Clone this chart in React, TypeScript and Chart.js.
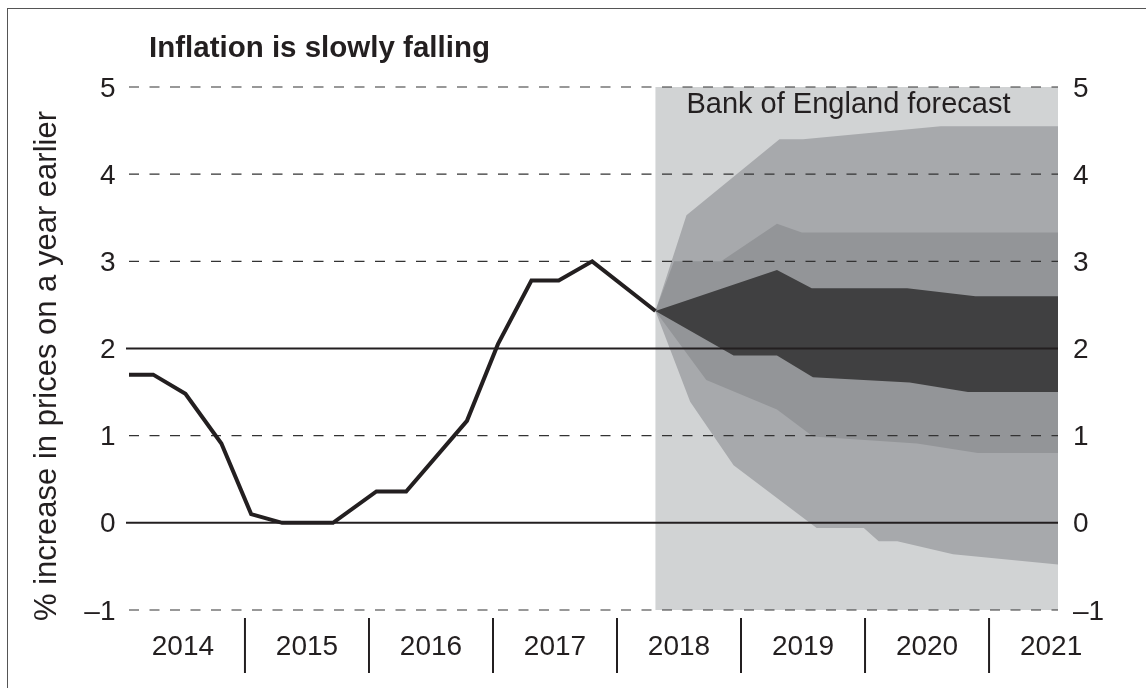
import React, { useEffect, useRef } from "react";
import { Chart, registerables } from "chart.js";

Chart.register(...registerables);

// ---------- text ----------
const chartTitle = "Inflation is slowly falling";
const yAxisTitle = "% increase in prices on a year earlier";
const forecastLabel = "Bank of England forecast";
const yearLabels = ["2014", "2015", "2016", "2017", "2018", "2019", "2020", "2021"];
const yearStarts = [2014, 2015, 2016, 2017, 2018, 2019, 2020, 2021];
const yTickValues = [5, 4, 3, 2, 1, 0, -1];
const dashedGridValues = [5, 4, 3, 1, -1];
const solidGridValues = [2, 0];

// ---------- axis ranges ----------
const xMin = 2014.065;
const xMax = 2021.556;
const yMin = -1;
const yMax = 5;

// ---------- CPI inflation (outturn) ----------
const histDates = [2014.048, 2014.26, 2014.52, 2014.81, 2015.05, 2015.3, 2015.71, 2016.06, 2016.3, 2016.79, 2017.04, 2017.31, 2017.53, 2017.8, 2018.31];
const histValues = [1.7, 1.7, 1.48, 0.91, 0.1, 0.0, 0.0, 0.36, 0.36, 1.17, 2.05, 2.78, 2.78, 3.0, 2.43];

// ---------- forecast fan ----------
const forecastStart = 2018.31;

const outerUpperX = [2018.31, 2018.56, 2019.31, 2019.5, 2020.61, 2021.56];
const outerUpperY = [2.43, 3.53, 4.4, 4.4, 4.55, 4.55];
const outerLowerX = [2018.31, 2018.59, 2018.94, 2019.61, 2019.99, 2020.11, 2020.26, 2020.71, 2021.56];
const outerLowerY = [2.43, 1.39, 0.66, -0.06, -0.06, -0.21, -0.21, -0.36, -0.48];

const middleUpperX = [2018.31, 2018.46, 2018.84, 2019.29, 2019.49, 2021.56];
const middleUpperY = [2.43, 3.0, 3.0, 3.43, 3.33, 3.33];
const middleLowerX = [2018.31, 2018.72, 2019.29, 2019.58, 2020.42, 2020.91, 2021.56];
const middleLowerY = [2.43, 1.64, 1.3, 0.99, 0.91, 0.8, 0.8];

const darkUpperX = [2018.31, 2019.29, 2019.57, 2020.34, 2020.89, 2021.56];
const darkUpperY = [2.43, 2.9, 2.69, 2.69, 2.6, 2.6];
const darkLowerX = [2018.31, 2018.94, 2019.29, 2019.58, 2020.36, 2020.83, 2021.56];
const darkLowerY = [2.43, 1.92, 1.92, 1.67, 1.61, 1.5, 1.5];

// ---------- style ----------
const FONT = '"Liberation Sans", Arial, Helvetica, sans-serif';
const INK = "#231f20";
const BG_FORECAST = "#d1d3d4";
const BAND_OUTER = "#a7a9ac";
const BAND_MIDDLE = "#939598";
const BAND_DARK = "#404041";

function polygon(ux: number[], uy: number[], lx: number[], ly: number[]) {
  const pts = ux.map((x, i) => ({ x, y: uy[i] }));
  for (let i = lx.length - 1; i >= 0; i--) pts.push({ x: lx[i], y: ly[i] });
  return pts;
}

function fmtTick(v: number) {
  return v < 0 ? "\u2013" + Math.abs(v) : String(v);
}

const decorPlugin = {
  id: "decor",
  beforeDatasetDraw(chart: any, args: any) {
    if (args.index !== 0) return;
    const { ctx, chartArea: a } = chart;
    const x = chart.scales.x;
    const y = chart.scales.y;
    ctx.save();
    // forecast label
    ctx.font = `29px ${FONT}`;
    ctx.fillStyle = INK;
    ctx.textAlign = "left";
    ctx.textBaseline = "alphabetic";
    ctx.fillText(forecastLabel, x.getPixelForValue(forecastStart) + 31, y.getPixelForValue(yMax) + 26);

    // dashed gridlines
    ctx.strokeStyle = "#333333";
    ctx.lineWidth = 1.2;
    ctx.setLineDash([10, 10.5]);
    for (const v of dashedGridValues) {
      const py = y.getPixelForValue(v);
      ctx.beginPath();
      ctx.moveTo(a.left, py);
      ctx.lineTo(a.right, py);
      ctx.stroke();
    }
    // solid gridlines
    ctx.setLineDash([]);
    ctx.strokeStyle = INK;
    ctx.lineWidth = 2;
    for (const v of solidGridValues) {
      const py = y.getPixelForValue(v);
      ctx.beginPath();
      ctx.moveTo(a.left - 3, py);
      ctx.lineTo(a.right, py);
      ctx.stroke();
    }
    ctx.restore();
  },
  afterDraw(chart: any) {
    const { ctx, chartArea: a } = chart;
    const x = chart.scales.x;
    const y = chart.scales.y;
    ctx.save();
    ctx.fillStyle = INK;

    // title
    ctx.font = `bold 29.5px ${FONT}`;
    ctx.textAlign = "left";
    ctx.textBaseline = "alphabetic";
    ctx.fillText(chartTitle, 149, 57);

    // y tick labels, both sides
    ctx.font = `28px ${FONT}`;
    for (const v of yTickValues) {
      const py = y.getPixelForValue(v) + 9.5;
      ctx.textAlign = "right";
      ctx.fillText(fmtTick(v), a.left - 13.5, py);
      ctx.textAlign = "left";
      ctx.fillText(fmtTick(v), a.right + 15, py);
    }

    // y axis title
    ctx.save();
    ctx.font = `31px ${FONT}`;
    ctx.translate(56, 366);
    ctx.rotate(-Math.PI / 2);
    ctx.textAlign = "center";
    ctx.textBaseline = "alphabetic";
    ctx.fillText(yAxisTitle, 0, 0);
    ctx.restore();

    // year separators and labels
    ctx.font = `28px ${FONT}`;
    ctx.strokeStyle = INK;
    ctx.lineWidth = 2;
    yearStarts.forEach((yr, i) => {
      if (i > 0) {
        const px = x.getPixelForValue(yr);
        ctx.beginPath();
        ctx.moveTo(px, a.bottom + 8);
        ctx.lineTo(px, a.bottom + 63);
        ctx.stroke();
      }
      ctx.textAlign = "center";
      ctx.fillText(yearLabels[i], x.getPixelForValue(yr + 0.5), a.bottom + 45);
    });
    ctx.restore();
  },
};

export default function App() {
  const ref = useRef<HTMLCanvasElement | null>(null);

  useEffect(() => {
    document.body.style.overflow = "hidden";
    const canvas = ref.current;
    if (!canvas) return;
    const chart = new Chart(canvas, {
      type: "line",
      data: {
        datasets: [
          {
            label: "CPI inflation",
            data: histDates.map((d, i) => ({ x: d, y: histValues[i] })),
            borderColor: INK,
            borderWidth: 4,
            borderJoinStyle: "miter",
            borderCapStyle: "butt",
            pointRadius: 0,
            fill: false,
            tension: 0,
            order: 0,
          },
          {
            label: "Forecast 30%",
            data: polygon(darkUpperX, darkUpperY, darkLowerX, darkLowerY),
            borderColor: "rgba(0,0,0,0)",
            borderWidth: 0,
            backgroundColor: BAND_DARK,
            pointRadius: 0,
            fill: "shape",
            order: 1,
          },
          {
            label: "Forecast 60%",
            data: polygon(middleUpperX, middleUpperY, middleLowerX, middleLowerY),
            borderColor: "rgba(0,0,0,0)",
            borderWidth: 0,
            backgroundColor: BAND_MIDDLE,
            pointRadius: 0,
            fill: "shape",
            order: 2,
          },
          {
            label: "Forecast 90%",
            data: polygon(outerUpperX, outerUpperY, outerLowerX, outerLowerY),
            borderColor: "rgba(0,0,0,0)",
            borderWidth: 0,
            backgroundColor: BAND_OUTER,
            pointRadius: 0,
            fill: "shape",
            order: 3,
          },
          {
            label: "Forecast period",
            data: polygon([forecastStart, xMax], [yMax, yMax], [forecastStart, xMax], [yMin, yMin]),
            borderColor: "rgba(0,0,0,0)",
            borderWidth: 0,
            backgroundColor: BG_FORECAST,
            pointRadius: 0,
            fill: "shape",
            order: 4,
          },
        ],
      },
      options: {
        responsive: false,
        animation: false,
        layout: { padding: { left: 129, right: 88, top: 87, bottom: 78 } },
        plugins: { legend: { display: false }, tooltip: { enabled: false }, title: { display: false } },
        scales: {
          x: { type: "linear", min: xMin, max: xMax, display: false },
          y: { type: "linear", min: yMin, max: yMax, display: false },
        },
        events: [],
      },
      plugins: [decorPlugin],
    } as any);
    return () => chart.destroy();
  }, []);

  return (
    <div style={{ position: "fixed", left: 0, top: 0, width: 1146, height: 688, overflow: "hidden", background: "#ffffff" }}>
      <div
        style={{
          position: "absolute",
          left: 7,
          top: 8,
          width: 1200,
          height: 800,
          borderLeft: "1px solid #555555",
          borderTop: "1px solid #555555",
        }}
      />
      <canvas ref={ref} width={1146} height={688} style={{ position: "absolute", left: 0, top: 0, width: 1146, height: 688 }} />
    </div>
  );
}
